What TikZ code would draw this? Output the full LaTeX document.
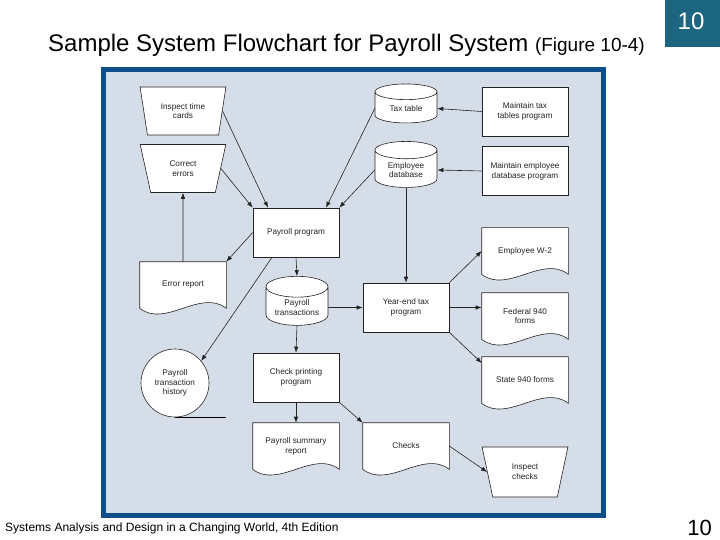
\documentclass[tikz,border=0pt]{standalone}
\usepackage{fontspec}
\setmainfont{Liberation Sans}
\usetikzlibrary{positioning, arrows.meta, shapes.geometric}
\definecolor{framecol}{RGB}{14,78,138}
\definecolor{panelcol}{RGB}{213,222,232}
\definecolor{tabcol}{RGB}{28,102,130}
\definecolor{inkcol}{RGB}{35,35,35}
\newcommand{\lblfont}{\fontsize{8.2}{9.8}\selectfont}
\pgfdeclarelayer{bg}
\pgfsetlayers{bg,main}
\tikzset{
  box/.style={draw=inkcol, fill=white, line width=0.6pt, minimum width=86pt, minimum height=49pt,
    align=center, font=\lblfont, text=inkcol, inner sep=1pt},
  manual/.style={box, trapezium, shape border rotate=180, trapezium stretches=true,
    trapezium left angle=75, trapezium right angle=75, minimum height=48pt},
  store/.style={box, cylinder, shape border rotate=90, aspect=0.45, minimum width=62pt},
  docu/.style={box, draw=none, fill=none, minimum height=46pt},
  flow/.style={-{Latex[length=6pt,width=4.5pt]}, line width=0.6pt, draw=inkcol}
}

\begin{document}
\begin{tikzpicture}[x=1pt, y=-1pt]
    \useasboundingbox (0,0) rectangle (720,540);
    % Panel
    \begin{pgfonlayer}{bg}
      \draw [line width=5pt, draw=framecol, fill=panelcol] (103.5,69.5) rectangle (603.5,515.5);
    \end{pgfonlayer}
    % Headings
    \node (title) [anchor=base west, inner sep=0, font=\fontsize{24}{28}\selectfont] at (48,52)
      {Sample System Flowchart for Payroll System {\fontsize{19}{22}\selectfont(Figure 10-4)}};
    \fill [tabcol] (665,0) rectangle (720,47);
    \node (tabno) [white, font=\fontsize{24}{28}\selectfont] at (691,21) {10};
    \node (foot) [anchor=base west, inner sep=0, font=\fontsize{12}{14}\selectfont] at (5,531)
      {Systems Analysis and Design in a Changing World, 4th Edition};
    \node (pageno) [anchor=base east, inner sep=0, font=\fontsize{22}{26}\selectfont] at (712,535) {10};
    % Left column
    \node (itc) [manual] at (183,111) {Inspect time\\cards};
    \node (ce) [manual] at (183,168.5) {Correct\\errors};
    \node (err) [docu] at (183,285) {Error report};
    \node (hist) [box, circle, minimum size=68pt] at (175,383) {Payroll\\transaction\\history};
    % Middle column
    \node (pp) [box] at (296,232.5) {Payroll program};
    \node (pt) [store, minimum height=49pt] at (297,307.5) {Payroll\\transactions};
    \node (cpp) [box] at (296,377.5) {Check printing\\program};
    \node (psr) [docu] at (296,446) {Payroll summary\\report};
    % Files and year-end column
    \node (tax) [store, minimum height=39pt] at (406,108.5) {Tax table};
    \node (emp) [store, minimum height=46pt] at (406,170) {Employee\\database};
    \node (ye) [box] at (406,307.5) {Year-end tax\\program};
    \node (chk) [docu] at (406,446) {Checks};
    % Right column
    \node (mtt) [box] at (525,111.5) {Maintain tax\\tables program};
    \node (med) [box] at (525,171) {Maintain employee\\database program};
    \node (w2) [docu] at (525,251) {Employee W-2};
    \node (fed) [docu] at (525,316) {Federal 940\\forms};
    \node (state) [docu] at (525,380) {State 940 forms};
    \node (ic) [manual, minimum height=50pt] at (525,472) {Inspect\\checks};
    % Document outlines
    \begin{pgfonlayer}{bg}
      \foreach \d in {err, psr, chk, w2, fed, state}
        \draw [draw=inkcol, fill=white, line width=0.6pt] (\d.north west) -- (\d.north east) -- (\d.south east)
          .. controls +(-26,-20) and +(26,20) .. (\d.south west) -- cycle;
    \end{pgfonlayer}
    % Inputs to payroll program
    \draw [flow] (itc.east) -- ([xshift=-28pt]pp.north);
    \draw [flow] (ce.east) -- (pp.north west);
    \draw [flow] (tax.west) -- ([xshift=30pt]pp.north);
    \draw [flow] (emp.west) -- (pp.north east);
    \draw [flow] (mtt.west) -- (tax.east);
    \draw [flow] (med.west) -- (emp.east);
    % Error loop
    \draw [flow] (pp.west) -- (err.north east);
    \draw [flow] (err.north) -- (ce.south);
    % Payroll run
    \draw [flow] ([xshift=-24pt]pp.south) -- (hist.40);
    \draw [line width=0.8pt] (hist.south) -- (hist.south -| err.east);
    \draw [flow] (pp.south) -- (pt.north);
    \draw [flow] (pt.south) -- (cpp.north);
    \draw [flow] (cpp.south) -- (psr.north);
    \draw [flow] (cpp.south east) -- (chk.north west);
    \draw [flow] (chk.east) -- (ic.west);
    % Year-end
    \draw [flow] (pt.east) -- (ye.west);
    \draw [flow] (emp.south) -- (ye.north);
    \draw [flow] (ye.north east) -- (w2.west);
    \draw [flow] (ye.east) -- (ye.east -| fed.west);
    \draw [flow] (ye.south east) -- ([yshift=17pt]state.west);
\end{tikzpicture}
\end{document}
